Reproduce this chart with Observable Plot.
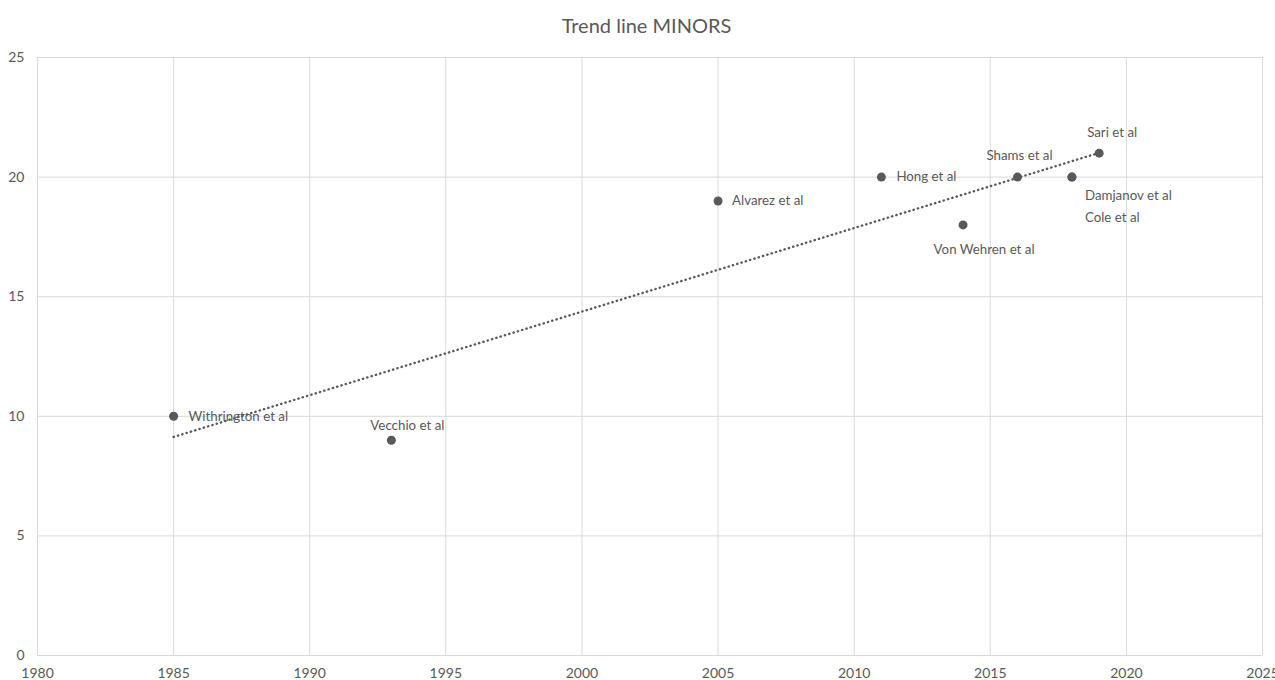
<!DOCTYPE html>
<html>
<head>
<meta charset="utf-8">
<script src="https://cdn.jsdelivr.net/npm/d3@7"></script>
<script src="https://cdn.jsdelivr.net/npm/@observablehq/plot@0.6"></script>
<style>
  html, body { margin: 0; padding: 0; background: #fff; }
  #title { height: 40px; width: 1293px; text-align: center; font: 20px Lato, sans-serif; color: #595959; line-height: 50px; }
  svg { display: block; }
</style>
</head>
<body>
<div id="title">Trend line MINORS</div>
<div id="chart"></div>
<script>
// Data
const studies = ["Withrington et al", "Vecchio et al", "Alvarez et al", "Hong et al", "Von Wehren et al", "Shams et al", "Damjanov et al", "Cole et al", "Sari et al"];
const years = [1985, 1993, 2005, 2011, 2014, 2016, 2018, 2018, 2019];
const minors = [10, 9, 19, 20, 18, 20, 20, 20, 21];
const xTicks = [1980, 1985, 1990, 1995, 2000, 2005, 2010, 2015, 2020, 2025];
const yTicks = [0, 5, 10, 15, 20, 25];

const data = studies.map((s, i) => ({study: s, year: years[i], score: minors[i]}));

// label placement (pixel offsets relative to each point)
const labelLayout = {
  "Withrington et al": {dx: 15, dy: 0, anchor: "start"},
  "Vecchio et al": {dx: 16, dy: -14, anchor: "middle"},
  "Alvarez et al": {dx: 14, dy: 0, anchor: "start"},
  "Hong et al": {dx: 15, dy: 0, anchor: "start"},
  "Von Wehren et al": {dx: 21, dy: 25, anchor: "middle"},
  "Shams et al": {dx: 2, dy: -21, anchor: "middle"},
  "Damjanov et al": {dx: 13, dy: 19, anchor: "start"},
  "Cole et al": {dx: 13, dy: 41, anchor: "start"},
  "Sari et al": {dx: 13, dy: -20, anchor: "middle"}
};

const textColor = "#595959";
const labelMarks = data.map(d => {
  const l = labelLayout[d.study];
  return Plot.text([d], {x: "year", y: "score", text: "study", dx: l.dx, dy: l.dy, textAnchor: l.anchor, fill: textColor, fontSize: 13.3});
});

const chart = Plot.plot({
  width: 1275,
  height: 640,
  marginTop: 17,
  marginBottom: 25,
  marginLeft: 37,
  marginRight: 13,
  style: {fontFamily: "Lato, sans-serif", fontSize: "14px", color: textColor, background: "#fff", overflow: "visible"},
  x: {domain: [1980, 2025], ticks: xTicks, tickFormat: "d", label: null, tickSize: 0, tickPadding: 13},
  y: {domain: [0, 25], ticks: yTicks, label: null, tickSize: 0, tickPadding: 13},
  marks: [
    Plot.gridX(xTicks, {stroke: "#d9d9d9", strokeOpacity: 1, strokeWidth: 1}),
    Plot.gridY(yTicks, {stroke: "#d9d9d9", strokeOpacity: 1, strokeWidth: 1}),
    Plot.axisX({ticks: xTicks, tickFormat: "d", tickSize: 0, tickPadding: 13, fill: textColor, fontSize: 14}),
    Plot.axisY({ticks: yTicks, tickSize: 0, tickPadding: 13, fill: textColor, fontSize: 14}),
    Plot.dot(data, {x: "year", y: "score", r: 4.5, fill: "#595959", stroke: "none"}),
    Plot.linearRegressionY(data, {x: "year", y: "score", ci: 0, stroke: "#595959", strokeWidth: 2.4, strokeLinecap: "round", strokeDasharray: "0.3,4.2"}),
    ...labelMarks
  ]
});
document.getElementById("chart").appendChild(chart);
</script>
</body>
</html>
